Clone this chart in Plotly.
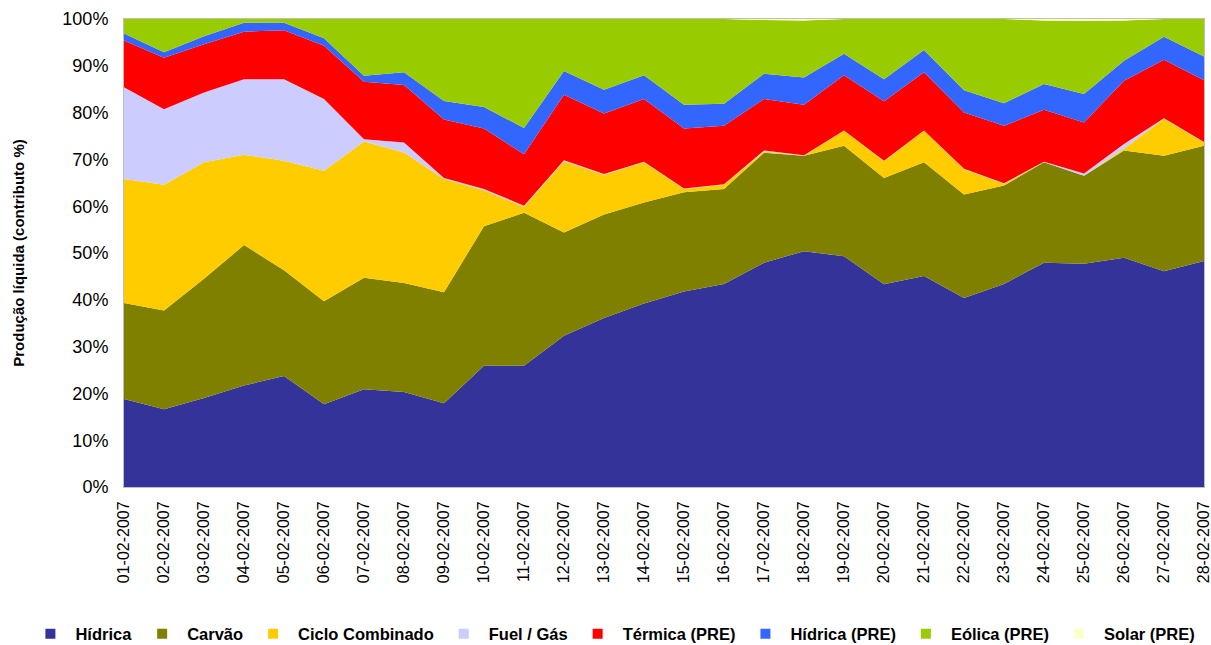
import plotly.graph_objects as go

dates = ["%02d-02-2007" % d for d in range(1, 29)]

# Cumulative boundaries (% of total)
cum_hidrica = [18.8, 16.6, 19.0, 21.7, 23.7, 17.7, 20.9, 20.3, 17.9, 25.9, 25.9, 32.3, 36.1, 39.2,
               41.8, 43.4, 47.9, 50.4, 49.3, 43.3, 45.1, 40.4, 43.4, 47.9, 47.7, 49.0, 46.1, 48.3]
cum_carvao = [39.3, 37.7, 44.5, 51.7, 46.3, 39.7, 44.7, 43.6, 41.6, 55.7, 58.6, 54.4, 58.2, 60.8,
              63.0, 63.7, 71.4, 70.8, 72.9, 66.0, 69.4, 62.5, 64.4, 69.4, 66.5, 71.9, 70.8, 72.9]
cum_ciclo = [65.8, 64.6, 69.4, 71.0, 69.7, 67.6, 73.8, 71.5, 65.8, 63.4, 59.9, 69.6, 66.7, 69.4,
             63.7, 64.6, 71.7, 70.8, 76.1, 69.6, 76.1, 67.9, 64.8, 69.4, 66.5, 72.3, 78.7, 73.6]
cum_fuel = [85.4, 80.7, 84.3, 87.1, 87.1, 82.9, 74.3, 73.6, 66.0, 63.7, 60.1, 69.8, 66.9, 69.5,
            63.8, 64.7, 71.9, 70.9, 76.2, 69.7, 76.2, 68.0, 64.9, 69.5, 67.0, 73.3, 78.8, 73.7]
cum_termica = [95.4, 91.7, 94.6, 97.3, 97.6, 94.3, 86.6, 85.9, 78.5, 76.6, 71.1, 83.8, 79.8, 82.9,
               76.6, 77.2, 82.9, 81.7, 88.0, 82.4, 88.6, 80.0, 77.2, 80.6, 77.9, 86.8, 91.3, 86.9]
cum_hidrica_pre = [96.9, 92.9, 96.3, 99.2, 99.2, 95.9, 87.9, 88.6, 82.5, 81.2, 76.7, 88.9, 84.9, 88.0,
                   81.7, 81.9, 88.3, 87.5, 92.6, 87.1, 93.4, 84.8, 82.0, 86.1, 84.0, 91.1, 96.2, 92.0]
solar_pre = [0, 0, 0, 0, 0, 0, 0, 0, 0, 0, 0, 0, 0, 0,
             0, 0, 0.2, 0.3, 0, 0, 0, 0, 0, 0.3, 0.4, 0.3, 0, 0]

def diff(a, b):
    return [round(x - y, 2) for x, y in zip(a, b)]

hidrica = cum_hidrica
carvao = diff(cum_carvao, cum_hidrica)
ciclo = diff(cum_ciclo, cum_carvao)
fuel = diff(cum_fuel, cum_ciclo)
termica = diff(cum_termica, cum_fuel)
hidrica_pre = diff(cum_hidrica_pre, cum_termica)
eolica_pre = [round(100 - h - s, 2) for h, s in zip(cum_hidrica_pre, solar_pre)]

series_names = ["Hídrica", "Carvão", "Ciclo Combinado", "Fuel / Gás", "Térmica (PRE)",
                "Hídrica (PRE)", "Eólica (PRE)", "Solar (PRE)"]
series_values = [hidrica, carvao, ciclo, fuel, termica, hidrica_pre, eolica_pre, solar_pre]
colors = ["#333399", "#808000", "#FFCC00", "#CCCCFF", "#FF0000", "#3366FF", "#99CC00", "#FFFFCC"]

fig = go.Figure()
for name, vals, col in zip(series_names, series_values, colors):
    fig.add_trace(go.Scatter(
        x=dates, y=vals, name=name, mode="lines", stackgroup="one", groupnorm="percent",
        line=dict(width=0, color=col), fillcolor=col, showlegend=False,
    ))
# legend entries with square swatches
for name, col in zip(series_names, colors):
    fig.add_trace(go.Scatter(
        x=[None], y=[None], name=name, mode="markers",
        marker=dict(symbol="square", size=10, color=col), showlegend=True,
    ))

fig.update_layout(
    width=1211, height=645,
    margin=dict(l=124, r=7, t=19, b=158, autoexpand=False),
    paper_bgcolor="white", plot_bgcolor="white",
    font=dict(family="Arial, Liberation Sans, sans-serif", color="black"),
    showlegend=True,
    legend=dict(
        orientation="h", traceorder="normal",
        xref="paper", yref="paper",
        x=-0.0913, y=-0.314, xanchor="left", yanchor="middle",
        font=dict(size=16.5, family="Arial, Liberation Sans, sans-serif", color="black", weight="bold"),
        itemwidth=40, bgcolor="rgba(0,0,0,0)",
    ),
    xaxis=dict(
        type="category", range=[0, 27], tickangle=-90, automargin=False,
        tickfont=dict(size=16), showgrid=False, zeroline=False,
        showline=True, linecolor="#BFBFBF", linewidth=1, mirror=True,
        ticks="", ticklabelstandoff=7,
    ),
    yaxis=dict(
        range=[0, 100], tickvals=list(range(0, 101, 10)), automargin=False,
        ticktext=["%d%%" % v for v in range(0, 101, 10)],
        tickfont=dict(size=18), showgrid=False, zeroline=False,
        showline=True, linecolor="#BFBFBF", linewidth=1, mirror=True,
        ticks="", ticklabelstandoff=11,
        title=dict(text="<b>Produção líquida (contributo %)</b>", font=dict(size=15), standoff=34),
    ),
)

fig.write_html("out.html", config={"displayModeBar": False},
               post_script="document.body.style.margin='0';document.body.style.overflow='hidden';")
